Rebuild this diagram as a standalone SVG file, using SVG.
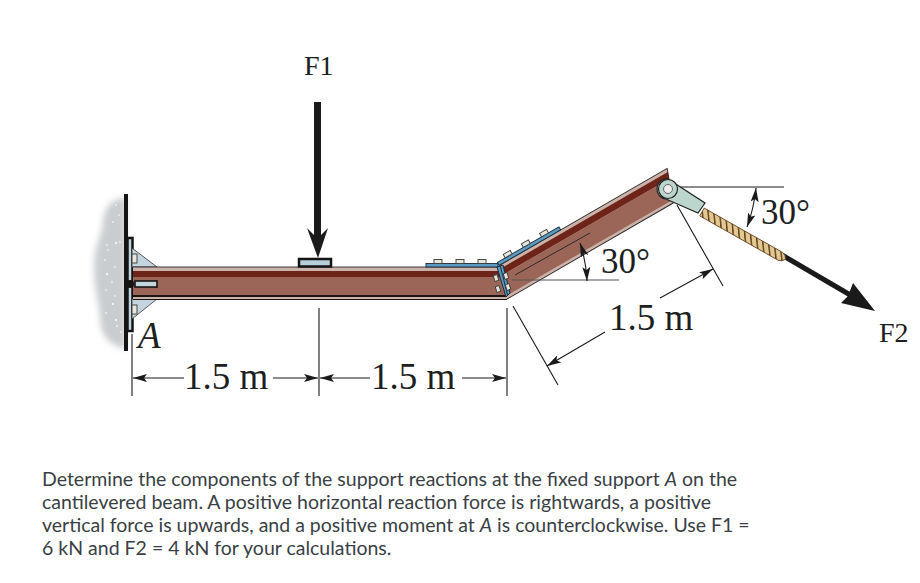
<svg xmlns="http://www.w3.org/2000/svg" width="920" height="583" viewBox="0 0 920 583">
<style>
.s{font-family:"Liberation Serif",serif;fill:#1c2020}
.d{font-size:37px}
.a{font-size:35px}
.f{font-size:28px}
.b{font-family:Lato,"Liberation Sans",sans-serif;font-size:19.5px;fill:#3a3f45}
.l{stroke:#1a1a1a;stroke-width:1.1;fill:none}
.h{fill:#1a1a1a}
.bolt{fill:#e6e6dc;stroke:#3a3a3a;stroke-width:.9}
.blue{fill:#5b9cc4;stroke:#1c2a36;stroke-width:.9}
.lt{fill:#c9b3aa}
.dr{fill:#6e2418}
.br{fill:#9b6658}
.bk{fill:#1b1412}
.gus{fill:#c3d5de;stroke:#333;stroke-width:.8}
.edge{stroke:#2e2422;stroke-width:.9;fill:none}
</style>
<defs>
<filter id="blur" x="-30%" y="-10%" width="160%" height="120%"><feGaussianBlur stdDeviation="3"/></filter>
<pattern id="rope" width="7" height="10" patternUnits="userSpaceOnUse" patternTransform="skewX(35)">
<rect width="7" height="10" fill="#e3c88f"/><rect width="1.800" height="10" fill="#5f4020"/>
</pattern>
<marker id="a" viewBox="0 0 14 8" refX="14" refY="4" markerWidth="14" markerHeight="8" markerUnits="userSpaceOnUse" orient="auto-start-reverse"><path d="M0 0L14 4L0 8L3 4Z" fill="#1a1a1a"/></marker>
</defs>
<rect width="920" height="583" fill="#fff"/>

<g id="wall">
<path d="M126 198C110 198 104 210 103 222C102 236 94 245 94 268C94 290 100 305 100 320C101 338 112 346 126 349Z" fill="#c9cdd0" filter="url(#blur)"/>
<g fill="#fff">
<circle cx="116" cy="205" r=".8"/><circle cx="119" cy="215" r=".8"/><circle cx="113" cy="222" r=".8"/><circle cx="107" cy="245" r=".8"/><circle cx="116" cy="243" r="1"/><circle cx="120" cy="242" r=".8"/><circle cx="108" cy="250" r=".8"/><circle cx="105" cy="260" r=".8"/><circle cx="115" cy="267" r=".8"/><circle cx="107" cy="274" r="1"/><circle cx="112" cy="282" r=".8"/><circle cx="106" cy="290" r=".8"/><circle cx="115" cy="296" r=".8"/><circle cx="113" cy="304" r="1"/><circle cx="106" cy="313" r=".8"/><circle cx="116" cy="320" r="1"/><circle cx="121" cy="332" r=".8"/><circle cx="117" cy="326" r=".8"/>
</g>
<rect x="124" y="194" width="4" height="157" fill="#141414"/>
</g>

<g id="support">
<rect x="127.500" y="238" width="5" height="93" fill="#c3d5de" stroke="#141414" stroke-width="2.500"/>
<path class="gus" d="M132 248L157 267L132 267Z"/>
<path class="gus" d="M132 299L157 299L132 319Z"/>
<rect class="bolt" x="132" y="254" width="5" height="9"/>
<rect class="bolt" x="132" y="305" width="5" height="9"/>
</g>

<g id="beam-flat">
<path class="lt" d="M133 267H499L507 299H133Z"/>
<path class="dr" d="M133 271H500L501.500 277H133Z"/>
<path class="br" d="M133 277H501.500L506 295H133Z"/>
<rect class="bk" x="133" y="295" width="373" height="2"/>
<rect x="133" y="297" width="374" height="2" class="lt"/>
<rect x="133" y="299" width="374" height="1" class="bk"/>
<path class="edge" d="M133 267H499"/>
<rect x="135" y="281" width="22" height="6" fill="#c3d5de" stroke="#141414" stroke-width="1.600"/>
<circle cx="130" cy="284" r="4" fill="#141414"/>
<rect x="426" y="263.500" width="72" height="3.500" class="blue"/>
<rect class="bolt" x="434" y="259.500" width="8" height="4"/>
<rect class="bolt" x="456" y="259.500" width="8" height="4"/>
<rect class="bolt" x="478" y="259.500" width="8" height="4"/>
</g>

<g id="beam-angled" transform="rotate(-30 507 299)">
<path class="lt" d="M507 299L517 266H711L699 299Z"/>
<path class="dr" d="M515.800 269.500H709.700L707.400 276H514Z"/>
<path class="br" d="M514 276H707.400L700.800 296H508.200Z"/>
<path class="edge" d="M507 299H699M517 266H711L699 299"/>
<path class="blue" d="M517 262.500H588V266H517Z"/>
<rect class="bolt" x="526" y="258.500" width="8" height="4"/>
<rect class="bolt" x="547" y="258.500" width="8" height="4"/>
<rect class="bolt" x="568" y="258.500" width="8" height="4"/>
</g>

<g id="splice">
<path d="M497 267L503 265L510 293L506 297Z" fill="#5b9cc4" stroke="#1c2a36" stroke-width="1"/>
<path d="M500.300 266L507.500 295" stroke="#1c2a36" stroke-width="1" fill="none"/>
<rect class="bolt" x="494" y="275" width="4" height="6" transform="rotate(-15 496 278)"/>
<rect class="bolt" x="496" y="286" width="4" height="6" transform="rotate(-15 498 289)"/>
<rect class="bolt" x="504" y="273" width="4" height="6" transform="rotate(-15 506 276)"/>
<rect class="bolt" x="506" y="284" width="4" height="6" transform="rotate(-15 508 287)"/>
<path d="M515 275L590 233" stroke="#2b2b2b" stroke-width="1" fill="none"/>
</g>

<g id="load-plate">
<rect x="299" y="259" width="32" height="7.500" fill="#b7cfdb" stroke="#141414" stroke-width="2.500"/>
</g>

<g id="connectors">
<rect x="314" y="102" width="7" height="134" fill="#1a1a1a"/>
<path class="h" d="M307 228L314 235H321L328 228L318 258Z"/>
<path d="M782 255L852 296" stroke="#1a1a1a" stroke-width="5" fill="none"/>
<path class="h" d="M853 283L875 311L841 303L848 296Z"/>

<path class="l" d="M132 334V396M319 308V396M507 308V396"/>
<path class="l" d="M184 378H133" marker-end="url(#a)"/>
<path class="l" d="M273 378H318" marker-end="url(#a)"/>
<path class="l" d="M370 378H320" marker-end="url(#a)"/>
<path class="l" d="M462 378H506" marker-end="url(#a)"/>
<path class="l" d="M513 306L558 385"/>
<path class="l" d="M677 205L723 286"/>
<path class="l" d="M605 332L547 366" marker-end="url(#a)"/>
<path class="l" d="M660 298L713 269" marker-end="url(#a)"/>
<path d="M512 280H619" stroke="#555" stroke-width="1.200" fill="none"/>
<path class="l" d="M680 187H784"/>
<path class="l" d="M580 243Q586 260 587 281" marker-start="url(#a)" marker-end="url(#a)"/>
<path class="l" d="M756 188Q754 208 747 227" marker-start="url(#a)" marker-end="url(#a)"/>
</g>

<g id="rope-end">
<g transform="rotate(29.500 702 212)">
<path d="M702 207.500H792Q796 208 798 212Q796 216 792 216.500H702Z" fill="url(#rope)" stroke="#5f4020" stroke-width=".8"/>
</g>
<path d="M668 179L705 203L698 213L666 199A10 10 0 0 1 668 179Z" fill="#bcd6cd" stroke="#232323" stroke-width="1.200"/>
<circle cx="668" cy="189" r="9.500" fill="#bcd6cd" stroke="#232323" stroke-width="1.200"/>
<circle cx="668" cy="189" r="4.500" fill="#eee" stroke="#666" stroke-width="1"/>
</g>

<g id="labels">
<text class="s f" x="304" y="75">F1</text>
<text class="s f" x="879" y="342">F2</text>
<text class="s d" x="138" y="348" font-style="italic">A</text>
<text class="s d" x="184" y="389">1.5 m</text>
<text class="s d" x="371" y="389">1.5 m</text>
<text class="s d" x="609" y="330">1.5 m</text>
<text class="s a" x="601" y="273">30°</text>
<text class="s a" x="761" y="224">30°</text>
<text class="b" x="42" y="486">Determine the components of the support reactions at the fixed support <tspan font-style="italic">A</tspan> on the</text>
<text class="b" x="42" y="509">cantilevered beam. A positive horizontal reaction force is rightwards, a positive</text>
<text class="b" x="42" y="532">vertical force is upwards, and a positive moment at <tspan font-style="italic">A</tspan> is counterclockwise. Use F1 =</text>
<text class="b" x="42" y="555">6 kN and F2 = 4 kN for your calculations.</text>
</g>
</svg>
